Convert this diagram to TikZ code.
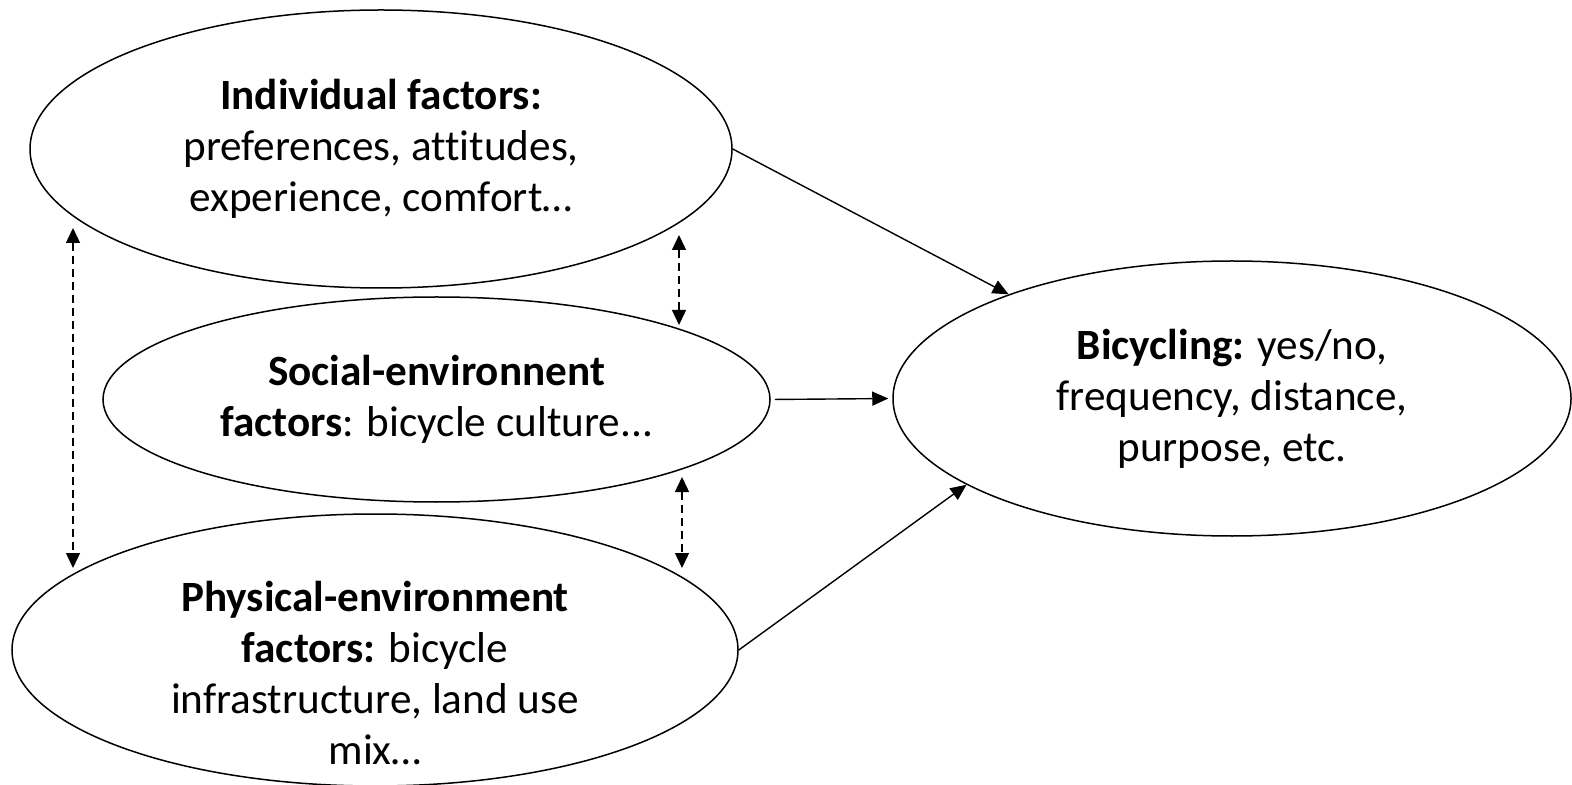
\documentclass[tikz,border=0pt]{standalone}
\usepackage{fontspec}
\setmainfont{Carlito}[Ligatures={NoCommon}]
\usepackage{tikz}
\usetikzlibrary{positioning,shapes.geometric,arrows.meta,calc}

\tikzset{
  factor/.style={draw, ellipse, line width=0.75pt, inner sep=0pt, align=center},
  flow/.style={line width=0.7pt, -{Triangle[length=8pt,width=7pt]}},
  mutual/.style={line width=0.7pt, dash pattern=on 4pt off 2.5pt,
    {Triangle[length=7.5pt,width=7pt]}-{Triangle[length=7.5pt,width=7pt]}},
}

\begin{document}
\begin{tikzpicture}[x=0.5pt, y=-0.5pt, font=\fontsize{21.6}{25.5}\selectfont]
\useasboundingbox (0,0) rectangle (1572,785);

% Factor ellipses
\node[factor, minimum width=351pt, minimum height=139pt] (ind) at (381,149)
  {\textbf{Individual factors:}\\ preferences, attitudes,\\ experience, comfort…};
\node[factor, minimum width=333.5pt, minimum height=102.5pt] (soc) at (436.5,399.5)
  {\textbf{Social-environnent}\\ \textbf{factors}: bicycle culture...};
\node[factor, minimum width=363pt, minimum height=136pt] (phys) at (375,650) {};
\node[align=center] (physlbl) at (375,673)
  {\textbf{Physical-environment}\\ \textbf{factors:} bicycle\\ infrastructure, land use\\ mix…};

% Outcome
\node[factor, minimum width=339pt, minimum height=137.5pt] (bike) at (1232,398.5)
  {\textbf{Bicycling:} yes/no,\\ frequency, distance,\\ purpose, etc.};

% Effects on bicycling
\draw[flow] (ind.east) -- (bike.155);
\draw[flow, shorten <=2pt, shorten >=2pt] (soc.east) -- (bike.west);
\draw[flow] (phys.east) -- (bike.198);

% Interactions between factors
\coordinate (l1) at (73,228);
\coordinate (l2) at (73,568);
\coordinate (m1) at (679,235);
\coordinate (m2) at (679,325);
\coordinate (n1) at (682,477);
\coordinate (n2) at (682,568);
\draw[mutual] (l1) -- (l2);
\draw[mutual] (m1) -- (m2);
\draw[mutual] (n1) -- (n2);
\end{tikzpicture}
\end{document}
